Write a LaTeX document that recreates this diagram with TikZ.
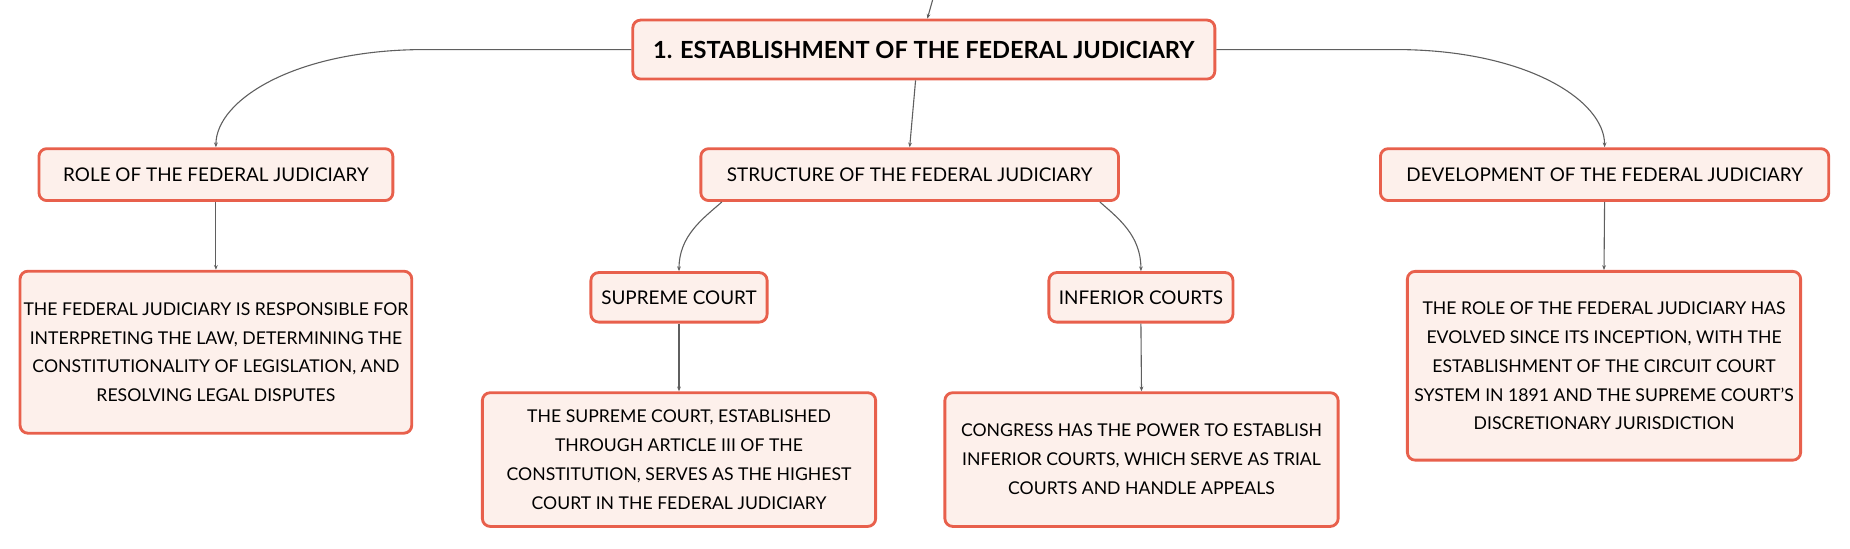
\documentclass[tikz,border=0pt]{standalone}
\usepackage{fontspec}
\setmainfont{Lato}
\usetikzlibrary{arrows.meta}
\definecolor{boxline}{RGB}{232,96,76}
\definecolor{boxfill}{RGB}{253,240,235}
\definecolor{linkgray}{RGB}{95,95,95}

\begin{document}
\begin{tikzpicture}[x=0.75pt,y=0.75pt,yscale=-1,xscale=1,
    box/.style={draw=boxline, fill=boxfill, line width=1.8pt, rounded corners=5pt, align=center, inner sep=0pt, font=\fontsize{12}{17.5}\selectfont},
    detail/.style={box, font=\fontsize{11.2}{18.4}\selectfont},
    topic/.style={box, font=\fontsize{15}{17}\selectfont\bfseries},
    conn/.style={draw=linkgray, line width=0.7pt, -{Stealth[length=3pt,width=2.4pt]}}]
    \useasboundingbox (0,0) rectangle (1568,465);

    % Text Node
    \node[topic, minimum width=370pt, minimum height=37.5pt] (title) at (783,42) {1. ESTABLISHMENT OF THE FEDERAL JUDICIARY};
    % Text Node
    \node[box, minimum width=225pt, minimum height=33pt] (role) at (183,148) {ROLE OF THE FEDERAL JUDICIARY};
    % Text Node
    \node[box, minimum width=265.5pt, minimum height=33pt] (struct) at (771,148) {STRUCTURE OF THE FEDERAL JUDICIARY};
    % Text Node
    \node[box, minimum width=285pt, minimum height=33pt] (devel) at (1360,148) {DEVELOPMENT OF THE FEDERAL JUDICIARY};
    % Text Node
    \node[box, minimum width=112pt, minimum height=31.5pt] (supreme) at (575.5,252) {SUPREME COURT};
    % Text Node
    \node[box, minimum width=117pt, minimum height=31.5pt] (inferior) at (967,252) {INFERIOR COURTS};
    % Text Node
    \node[detail, minimum width=249pt, minimum height=103pt] (roletxt) at (183,298.5) {THE FEDERAL JUDICIARY IS RESPONSIBLE FOR\\INTERPRETING THE LAW, DETERMINING THE\\CONSTITUTIONALITY OF LEGISLATION, AND\\RESOLVING LEGAL DISPUTES};
    % Text Node
    \node[detail, minimum width=250pt, minimum height=85pt] (supremetxt) at (575.5,389.5) {THE SUPREME COURT, ESTABLISHED\\THROUGH ARTICLE III OF THE\\CONSTITUTION, SERVES AS THE HIGHEST\\COURT IN THE FEDERAL JUDICIARY};
    % Text Node
    \node[detail, minimum width=250pt, minimum height=85pt] (inferiortxt) at (967.5,389.5) {CONGRESS HAS THE POWER TO ESTABLISH\\INFERIOR COURTS, WHICH SERVE AS TRIAL\\COURTS AND HANDLE APPEALS};
    % Text Node
    \node[detail, minimum width=250pt, minimum height=120pt] (develtxt) at (1359.5,310) {THE ROLE OF THE FEDERAL JUDICIARY HAS\\EVOLVED SINCE ITS INCEPTION, WITH THE\\ESTABLISHMENT OF THE CIRCUIT COURT\\SYSTEM IN 1891 AND THE SUPREME COURT'S\\DISCRETIONARY JURISDICTION};

    %Straight Lines
    \coordinate (parent) at (791,-2);
    \draw[conn] (parent) -- ([xshift=2.25pt]title.north);
    \draw[conn] ([xshift=-5.25pt]title.south) -- (struct.north);
    %Curve Lines
    \draw[conn] (title.west) -- +(-175,0) .. controls +(-110,0) and +(0,-40) .. (role.north);
    \draw[conn] (title.east) -- +(152,0) .. controls +(110,0) and +(0,-40) .. (devel.north);
    \draw[conn] ([xshift=14.25pt]struct.south west) .. controls +(-16,14) and +(0,-30) .. (supreme.north);
    \draw[conn] ([xshift=-12.75pt]struct.south east) .. controls +(16,14) and +(0,-30) .. (inferior.north);
    %Straight Lines
    \draw[conn] (role.south) -- (roletxt.north);
    \draw[conn] (supreme.south) -- (supremetxt.north);
    \draw[conn] (inferior.south) -- (inferiortxt.north);
    \draw[conn] (devel.south) -- (develtxt.north);

\end{tikzpicture}
\end{document}
